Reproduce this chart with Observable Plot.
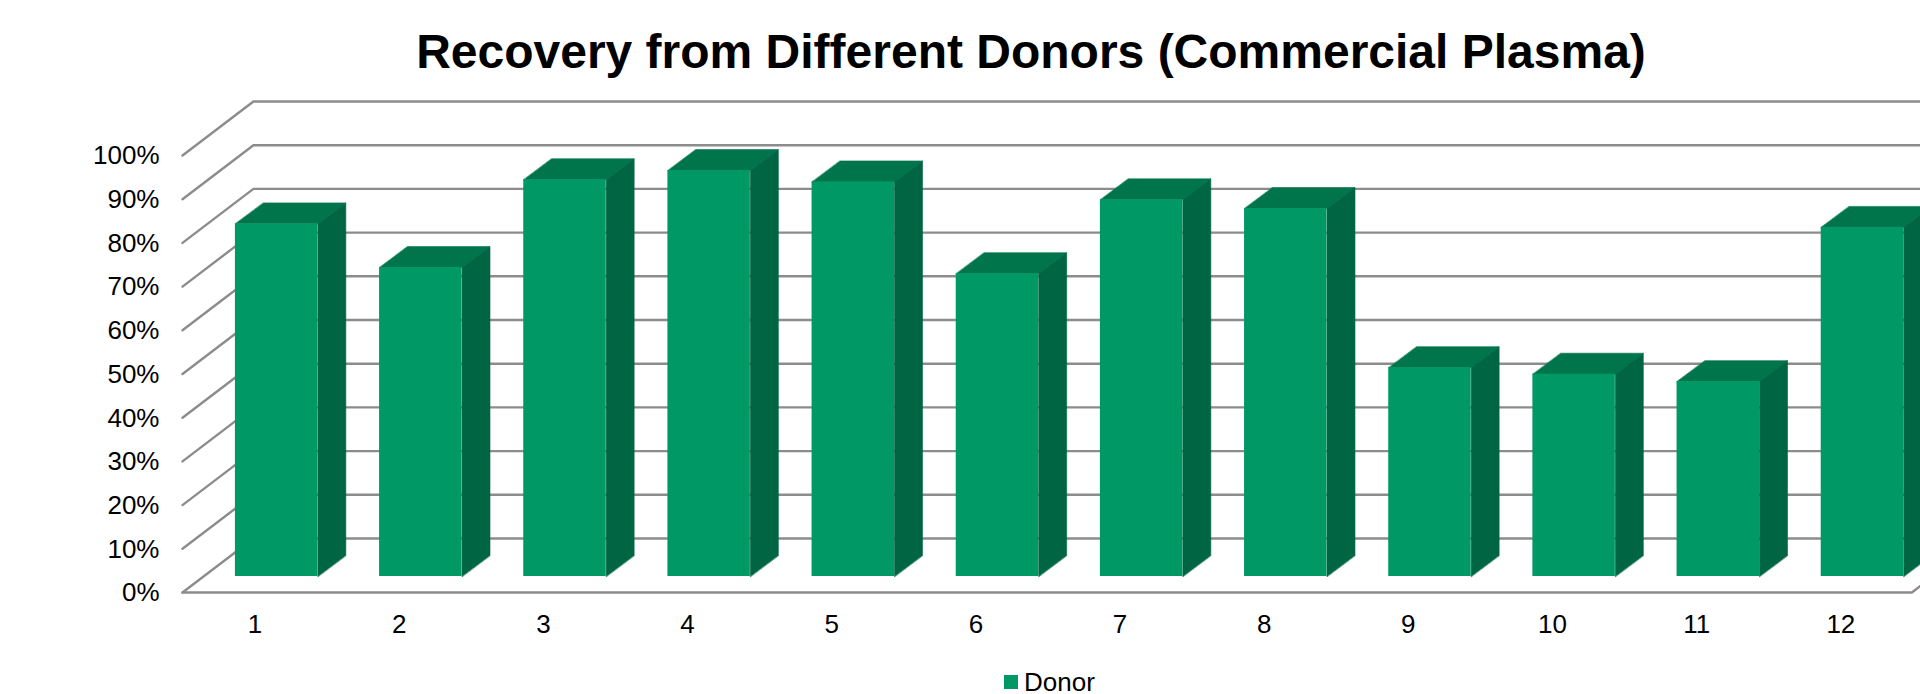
<!DOCTYPE html>
<html><head><meta charset="utf-8">
<script src="https://cdn.jsdelivr.net/npm/d3@7"></script>
<script src="https://cdn.jsdelivr.net/npm/@observablehq/plot@0.6"></script>
<style>
html,body{margin:0;padding:0;background:#fff;overflow:hidden;width:1920px;height:694px;font-family:"Liberation Sans",Arial,sans-serif;}
#title{height:90px;box-sizing:border-box;padding-left:142px;text-align:center;font-weight:bold;font-size:48px;line-height:104px;color:#000;white-space:nowrap;}
#legend{position:absolute;left:1004px;top:670px;height:24px;display:flex;align-items:center;font-size:26px;line-height:24px;color:#000;}
#legend i{display:inline-block;width:14px;height:14px;background:#009966;margin-right:6px;}
</style></head><body>
<div id="title">Recovery from Different Donors (Commercial Plasma)</div>
<div id="chart"></div>
<div id="legend"><i></i><span>Donor</span></div>
<script>
const donors = [1,2,3,4,5,6,7,8,9,10,11,12];
const recovery = [80.7,70.7,90.8,92.9,90.3,69.3,86.2,84.2,47.8,46.3,44.6,79.9];
const percentTicks = [0,10,20,30,40,50,60,70,80,90,100];

const wallDx = 0.492, wallDy = 12.36;   // floor depth in axis units
const barHalf = 0.286, barDx = 0.194, barDy = 4.8, barBase = 3.66;
const xMin = 0.347, xMax = 12.4027;

const colFront = "#009966", colTop = "#00754c", colSide = "#006543", colGrid = "#8c8c8c";

const grid = percentTicks.flatMap(t => [
  {t, x: xMin, y: t},
  {t, x: xMin + wallDx, y: t + wallDy},
  {t, x: xMax + wallDx, y: t + wallDy}
]);
const floor = [
  {x: xMin, y: 0},
  {x: 12.343, y: 0},
  {x: 12.343 + wallDx, y: wallDy}
];
const bars = donors.map((d, i) => ({d, v: recovery[i], x1: d - barHalf, x2: d + barHalf, y1: barBase, y2: barBase + recovery[i]}));
const topFace = bars.flatMap(b => [
  {d:b.d, x:b.x1, y:b.y2}, {d:b.d, x:b.x2, y:b.y2},
  {d:b.d, x:b.x2+barDx, y:b.y2+barDy}, {d:b.d, x:b.x1+barDx, y:b.y2+barDy}
]);
const sideFace = bars.flatMap(b => [
  {d:b.d, x:b.x2, y:b.y1}, {d:b.d, x:b.x2, y:b.y2},
  {d:b.d, x:b.x2+barDx, y:b.y2+barDy}, {d:b.d, x:b.x2+barDx, y:b.y1+barDy}
]);

const plot = Plot.plot({
  width: 1920, height: 550,
  marginLeft: 182, marginRight: 0, marginTop: 11, marginBottom: 48,
  style: {fontFamily: '"Liberation Sans", Arial, sans-serif', background: "transparent", overflow: "hidden"},
  x: {domain: [xMin, xMax], label: null},
  y: {domain: [0, 100 + wallDy], label: null},
  marks: [
    Plot.line(grid, {x: "x", y: "y", z: "t", stroke: colGrid, strokeWidth: 2.4}),
    Plot.line(floor, {x: "x", y: "y", stroke: colGrid, strokeWidth: 2.4}),
    Plot.line(topFace, {x: "x", y: "y", z: "d", fill: colTop, stroke: colTop, strokeWidth: 0.6, curve: "linear-closed"}),
    Plot.line(sideFace, {x: "x", y: "y", z: "d", fill: colSide, stroke: colSide, strokeWidth: 0.6, curve: "linear-closed"}),
    Plot.rect(bars, {x1: "x1", x2: "x2", y1: "y1", y2: "y2", fill: colFront}),
    Plot.axisX({ticks: donors, tickSize: 0, tickPadding: 21, dy: 1, dx: -21.6, fontSize: 26, tickFormat: d => String(d), color: "#000", label: null}),
    Plot.axisY({ticks: percentTicks, tickSize: 0, tickPadding: 23, dy: 0.5, fontSize: 26, tickFormat: d => d + "%", color: "#000", label: null})
  ]
});
document.getElementById("chart").append(plot);
</script>
</body></html>
